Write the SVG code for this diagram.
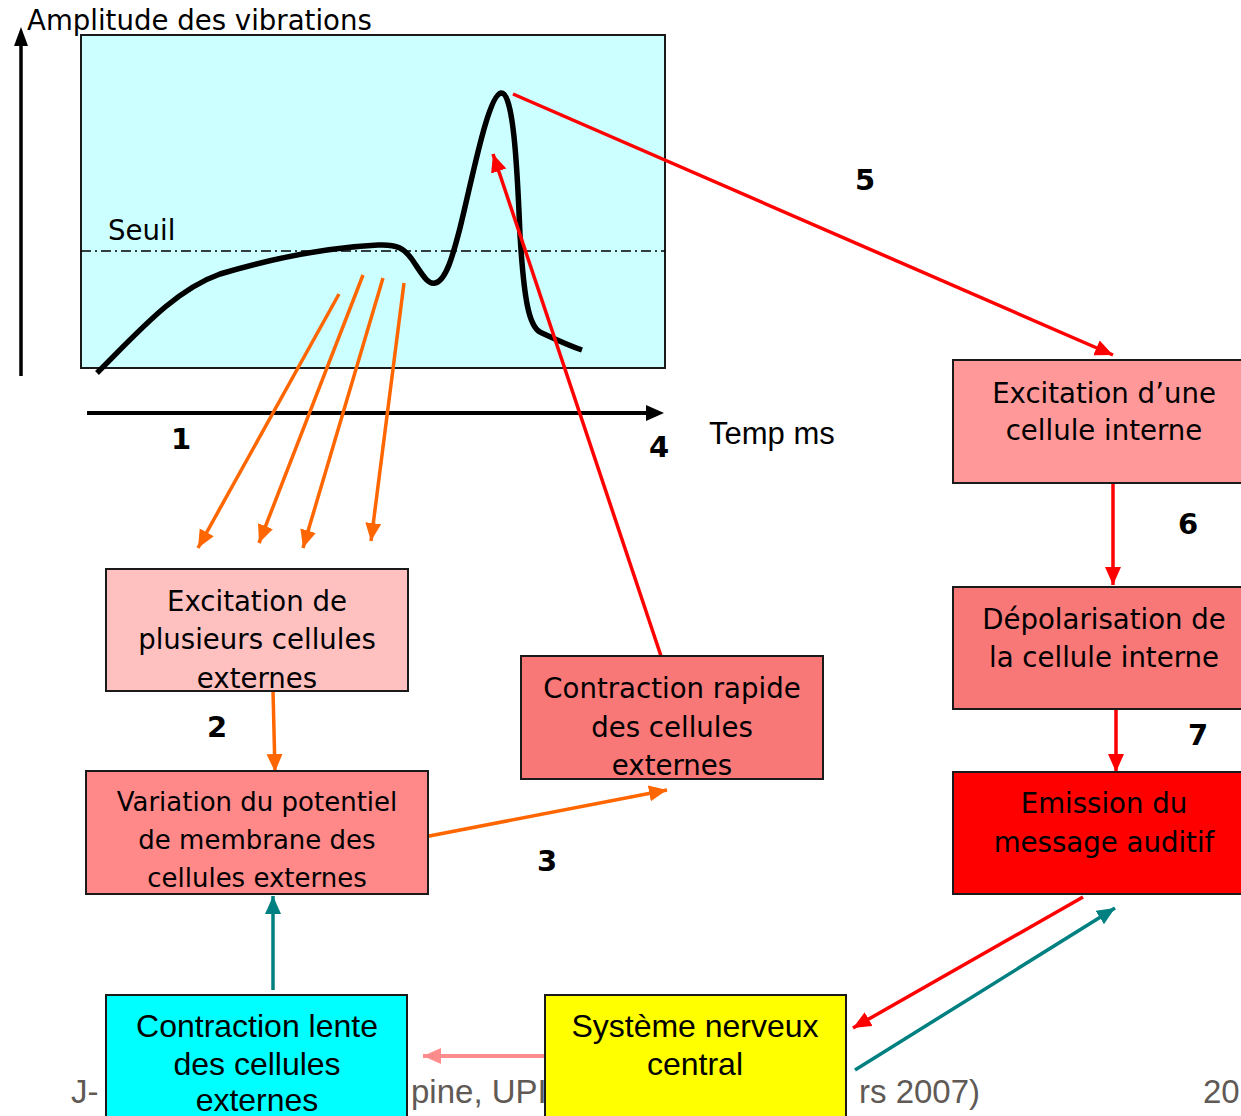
<svg xmlns="http://www.w3.org/2000/svg" width="1241" height="1116" viewBox="0 0 1241 1116">
<defs>
<style>
.t{font-family:"DejaVu Sans",Verdana,sans-serif;font-size:27.6px;fill:#000;text-anchor:middle}
.n{font-family:"DejaVu Sans",Verdana,sans-serif;font-weight:bold;font-size:29px;fill:#000;text-anchor:middle}
.a{font-family:"Liberation Sans",Arial,sans-serif;font-size:32px;fill:#000;text-anchor:middle}
.f{font-family:"Liberation Sans",Arial,sans-serif;font-size:33px;fill:#5f5a55}
.box{stroke:#1a1a1a;stroke-width:2}
.or{stroke:#ff6600;stroke-width:3.5;fill:none}
.rd{stroke:#ff0000;stroke-width:3.5;fill:none}
.tl{stroke:#008080;stroke-width:3.5;fill:none}
.sl{stroke:#ff8c8c;stroke-width:4;fill:none}
</style>
<marker id="mo" markerUnits="userSpaceOnUse" markerWidth="24" markerHeight="20" refX="18" refY="8" orient="auto"><path d="M0,0 L18,8 L0,16 Z" fill="#ff6600"/></marker>
<marker id="mr" markerUnits="userSpaceOnUse" markerWidth="24" markerHeight="20" refX="18" refY="8" orient="auto"><path d="M0,0 L18,8 L0,16 Z" fill="#ff0000"/></marker>
<marker id="mt" markerUnits="userSpaceOnUse" markerWidth="24" markerHeight="20" refX="18" refY="8" orient="auto"><path d="M0,0 L18,8 L0,16 Z" fill="#008080"/></marker>
<marker id="ms" markerUnits="userSpaceOnUse" markerWidth="24" markerHeight="20" refX="18" refY="8" orient="auto"><path d="M0,0 L18,8 L0,16 Z" fill="#ff8c8c"/></marker>
</defs>
<rect width="1241" height="1116" fill="#fff"/>

<g id="footer">
<text class="f" x="71" y="1103">J-</text>
<text class="f" x="411" y="1103">pine, UPI</text>
<text class="f" x="859" y="1103">rs 2007)</text>
<text class="f" x="1203" y="1103">20</text>
</g>

<g id="graph">
<rect x="81" y="35" width="584" height="333" fill="#ccffff" stroke="#1a1a1a" stroke-width="2"/>
<line x1="81" y1="251" x2="665" y2="251" stroke="#000" stroke-width="1.5" stroke-dasharray="10,4,2,4"/>
<text class="t" x="108" y="240" style="text-anchor:start">Seuil</text>
<path d="M97,373 C140,330 175,290 220,274 C260,262 320,248 378,245 C398,244 404,249 411,258 C421,272 427,285 435,283 C446,281 453,255 460,228 C472,180 488,95 501,93 C513,92 517,160 520,235 C524,300 529,326 540,332 C555,339 565,344 582,350" fill="none" stroke="#000" stroke-width="5.5" stroke-linecap="butt"/>
<line x1="21" y1="376" x2="21" y2="42" stroke="#000" stroke-width="3.5"/>
<path d="M21,27 L28,46 L14,46 Z" fill="#000"/>
<line x1="87" y1="413" x2="648" y2="413" stroke="#000" stroke-width="4"/>
<path d="M664,413 L646,405 L646,421 Z" fill="#000"/>
<text class="t" x="27" y="30" style="text-anchor:start">Amplitude des vibrations</text>
<text class="a" x="709" y="444" style="text-anchor:start;font-size:31px">Temp ms</text>
<text class="n" x="181" y="449">1</text>
<text class="n" x="659" y="457">4</text>
<text class="n" x="865" y="190">5</text>
<text class="n" x="1188" y="534">6</text>
<text class="n" x="1198" y="745">7</text>
<text class="n" x="217" y="737">2</text>
<text class="n" x="547" y="871">3</text>
</g>

<g id="connectors">
<line class="or" x1="339" y1="294" x2="198" y2="548" marker-end="url(#mo)"/>
<line class="or" x1="363" y1="275" x2="259" y2="543" marker-end="url(#mo)"/>
<line class="or" x1="383" y1="278" x2="303" y2="548" marker-end="url(#mo)"/>
<line class="or" x1="404" y1="283" x2="371" y2="541" marker-end="url(#mo)"/>
<line class="or" x1="273" y1="690" x2="275" y2="772" marker-end="url(#mo)"/>
<line class="or" x1="424" y1="837" x2="667" y2="790" marker-end="url(#mo)"/>
<line class="rd" x1="513" y1="94" x2="1113" y2="355" marker-end="url(#mr)"/>
<line class="rd" x1="661" y1="656" x2="493" y2="154" marker-end="url(#mr)"/>
<line class="rd" x1="1113" y1="483" x2="1113" y2="585" marker-end="url(#mr)"/>
<line class="rd" x1="1116" y1="709" x2="1116" y2="772" marker-end="url(#mr)"/>
<line class="rd" x1="1083" y1="897" x2="853" y2="1028" marker-end="url(#mr)"/>
<line class="tl" x1="855" y1="1070" x2="1115" y2="908" marker-end="url(#mt)"/>
<line class="tl" x1="273" y1="990" x2="273" y2="896" marker-end="url(#mt)"/>
<line class="sl" x1="545" y1="1056" x2="423" y2="1056" marker-end="url(#ms)"/>
</g>

<g id="n-excitation-plusieurs">
<rect class="box" x="106" y="569" width="302" height="122" fill="#ffc0c0"/>
<text class="t" x="257" y="611">Excitation de</text>
<text class="t" x="257" y="649">plusieurs cellules</text>
<text class="t" x="257" y="688">externes</text>
</g>
<g id="n-variation">
<rect class="box" x="86" y="771" width="342" height="123" fill="#ff8888"/>
<text class="t" x="257" y="811" style="font-size:26px">Variation du potentiel</text>
<text class="t" x="257" y="849" style="font-size:26px">de membrane des</text>
<text class="t" x="257" y="887" style="font-size:26px">cellules externes</text>
</g>
<g id="n-contraction-rapide">
<rect class="box" x="521" y="656" width="302" height="123" fill="#f87777"/>
<text class="t" x="672" y="698">Contraction rapide</text>
<text class="t" x="672" y="737">des cellules</text>
<text class="t" x="672" y="775">externes</text>
</g>
<g id="n-excitation-interne">
<rect class="box" x="953" y="360" width="300" height="123" fill="#ff9999"/>
<text class="t" x="1104" y="403">Excitation d’une</text>
<text class="t" x="1104" y="440">cellule interne</text>
</g>
<g id="n-depolarisation">
<rect class="box" x="953" y="587" width="300" height="122" fill="#f87777"/>
<text class="t" x="1104" y="629">Dépolarisation de</text>
<text class="t" x="1104" y="667">la cellule interne</text>
</g>
<g id="n-emission">
<rect class="box" x="953" y="772" width="300" height="122" fill="#ff0000"/>
<text class="t" x="1104" y="813">Emission du</text>
<text class="t" x="1104" y="852">message auditif</text>
</g>
<g id="n-contraction-lente">
<rect class="box" x="106" y="995" width="301" height="140" fill="#00ffff"/>
<text class="a" x="257" y="1037">Contraction lente</text>
<text class="a" x="257" y="1075">des cellules</text>
<text class="a" x="257" y="1111">externes</text>
</g>
<g id="n-systeme">
<rect class="box" x="545" y="995" width="301" height="140" fill="#ffff00"/>
<text class="a" x="695" y="1037">Système nerveux</text>
<text class="a" x="695" y="1075">central</text>
</g>
</svg>
